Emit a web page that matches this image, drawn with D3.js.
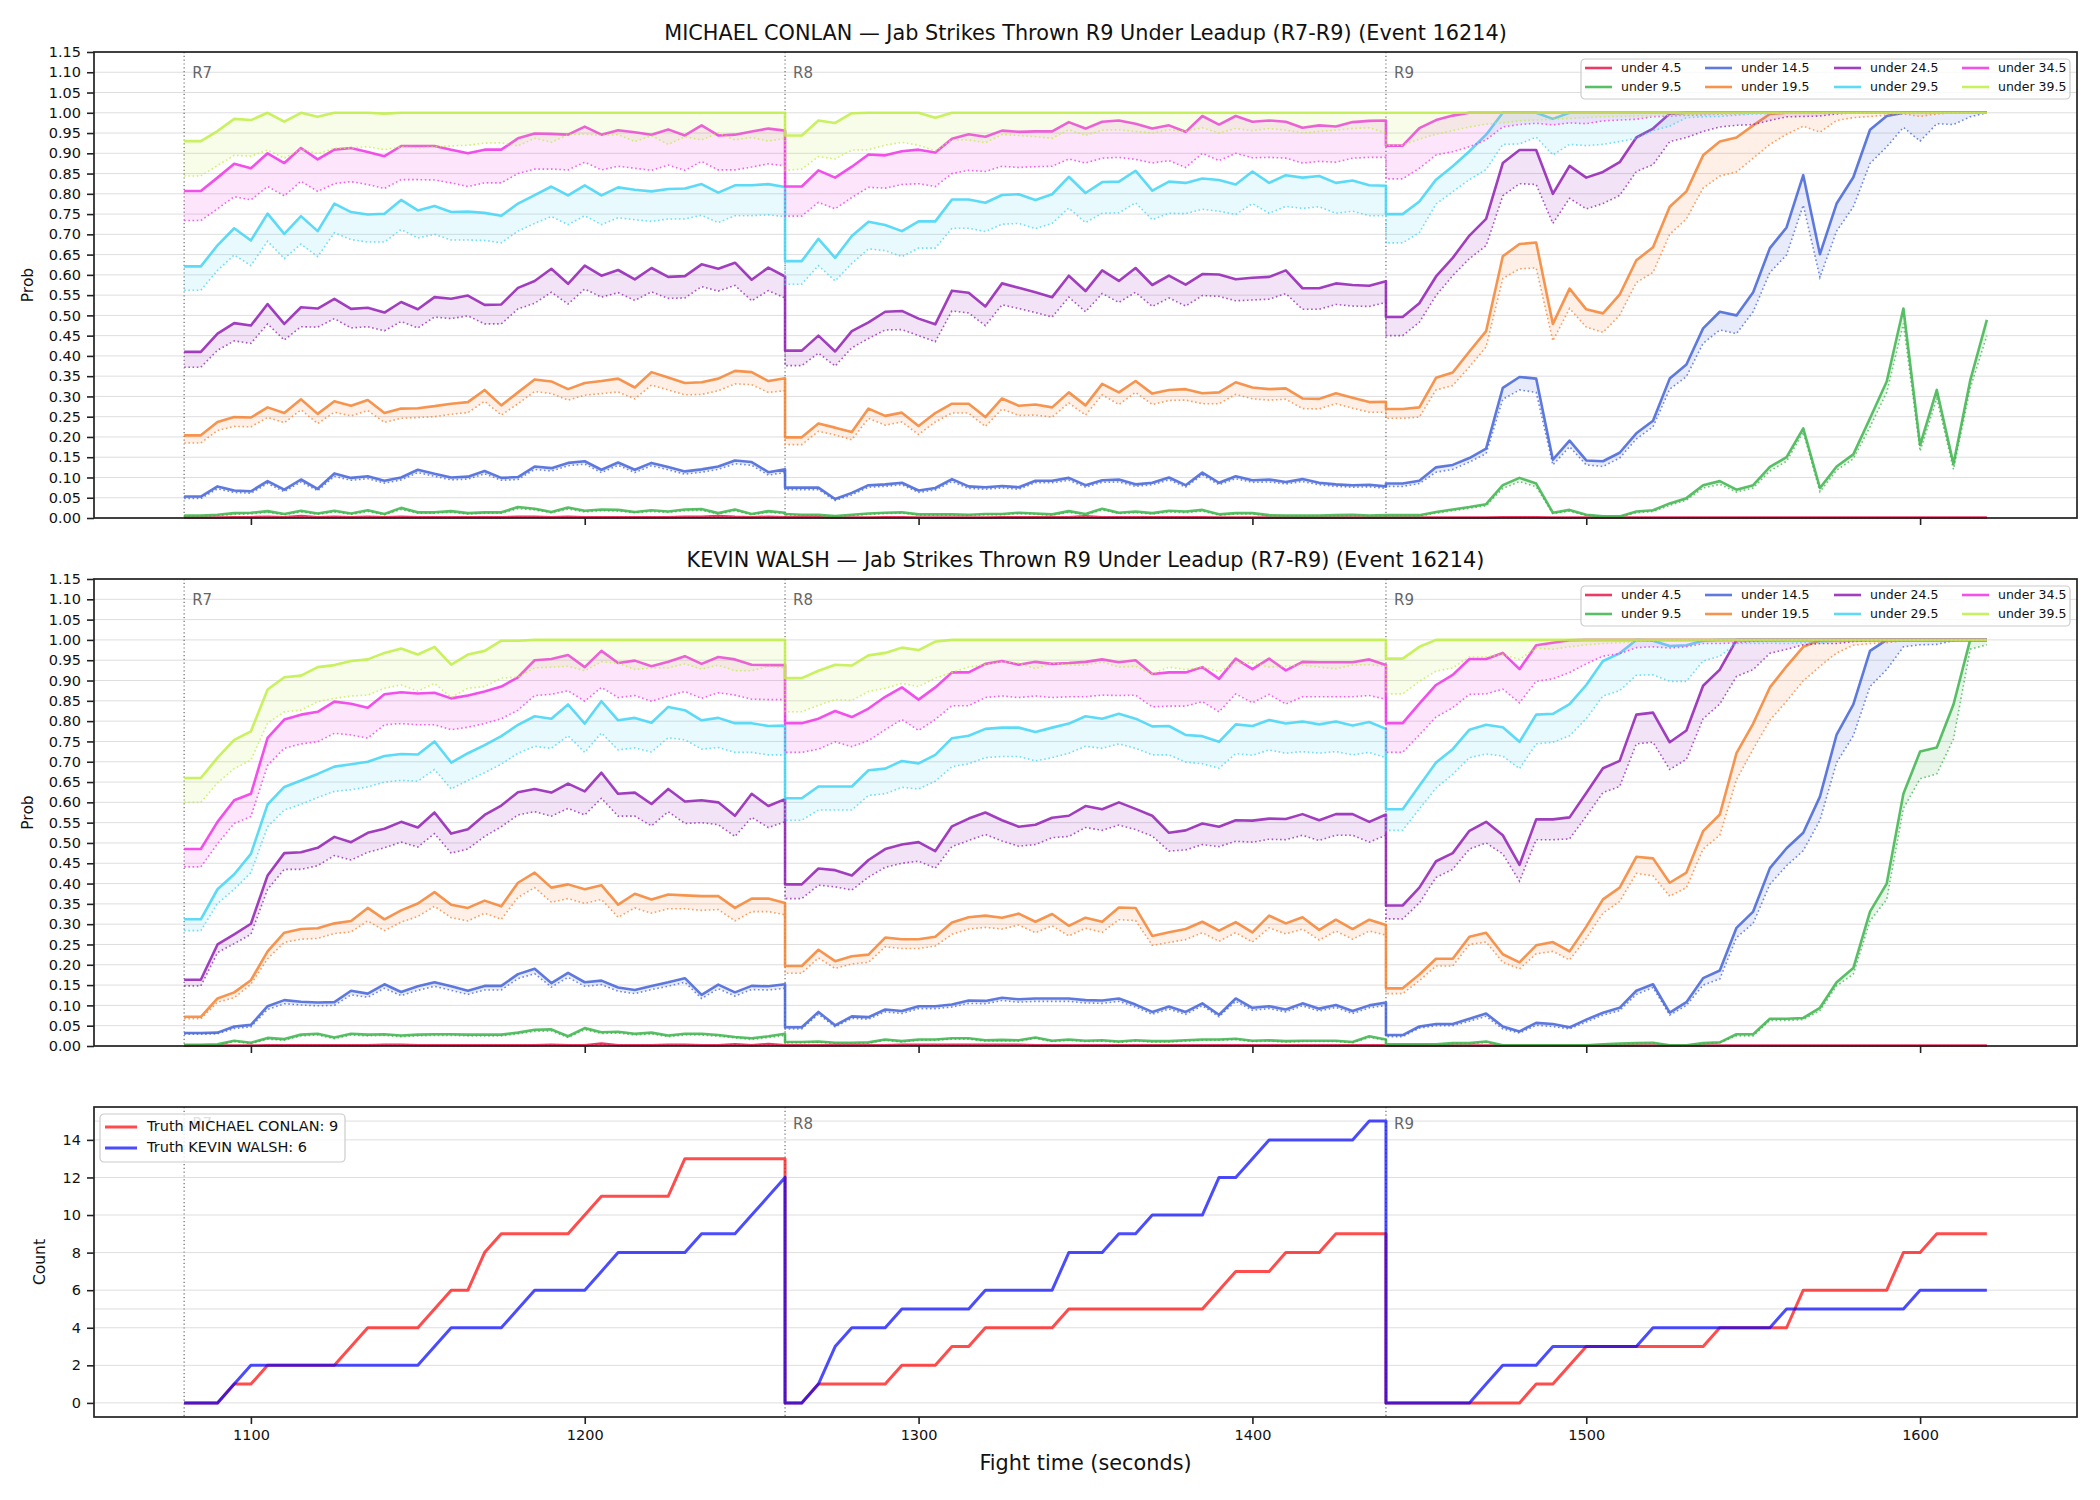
<!DOCTYPE html>
<html>
<head>
<meta charset="utf-8">
<script src="https://cdn.jsdelivr.net/npm/d3@7"></script>
<style>
body { margin: 0; background: #fff; }
text { font-family: "DejaVu Sans", sans-serif; }
</style>
</head>
<body>
<div id="chart"></div>
<script>

// ---- data ----------------------------------------------------------------
var roundStarts = [1080, 1260, 1440];
var roundNames = ["R7", "R8", "R9"];
var roundLength = 180;
var stepSec = 5;

var lineLabels = ["under 4.5", "under 9.5", "under 14.5", "under 19.5",
                  "under 24.5", "under 29.5", "under 34.5", "under 39.5"];
var lineColors = ["#e6194b", "#3cb44b", "#4363d8", "#f58231",
                  "#911eb4", "#42d4f4", "#f032e6", "#bfef45"];

var probTicks = d3.range(24).map(function(i) { return i * 0.05; });
var timeTicks = [1100, 1200, 1300, 1400, 1500, 1600];
var countTicks = [0, 2, 4, 6, 8, 10, 12, 14];
var countGrid = [0, 2, 4, 5, 6, 8, 10, 12, 14, 15];

// MICHAEL CONLAN, solid lines (one row per round R7, R8, R9)
var conlanU45 = [.001,.001,.001,.002,.002,.003,.002,.005,.002,.003,.002,.003,.002,.003,.002,.002,.002,.002,.002,.002,.003,.003,.002,.003,.002,.002,.002,.002,.002,.002,.003,.003,.005,.003,.002,.003,.002,
  .002,.002,.002,.001,.001,.001,.002,.002,.001,.001,.001,.001,.001,.002,.002,.002,.002,.002,.004,.002,.002,.002,.002,.002,.002,.002,.001,.001,.001,.001,.001,.001,.001,.001,.001,.001,.001,
  .001,.001,.001,.001,.001,.001,.001,.002,.002,.002,.001,.001,.001,.001,.001,.001,.001,.001,.001,.001,.001,.001,.001,.001,.001,.001,.001,.001,.001,.001,.001,.001,.001,.001,.001,.001,.001];
var conlanU95 = [.006,.006,.008,.012,.013,.017,.01,.018,.011,.018,.011,.019,.01,.025,.014,.014,.017,.012,.014,.014,.027,.023,.015,.026,.018,.021,.02,.015,.019,.016,.021,.022,.012,.021,.01,.017,.013,
  .01,.008,.008,.005,.008,.011,.013,.014,.009,.009,.009,.008,.01,.01,.013,.011,.009,.017,.01,.023,.013,.016,.012,.018,.016,.02,.009,.012,.012,.007,.006,.006,.006,.007,.008,.006,.007,
  .007,.007,.007,.015,.021,.027,.034,.081,.099,.085,.013,.02,.008,.004,.004,.016,.019,.036,.049,.081,.091,.07,.081,.126,.15,.221,.074,.127,.157,.246,.337,.517,.18,.316,.133,.339,.489];
var conlanU145 = [.053,.053,.078,.068,.066,.091,.07,.095,.072,.11,.099,.103,.092,.10,.119,.109,.10,.102,.116,.099,.101,.127,.123,.136,.14,.119,.137,.119,.136,.126,.115,.12,.127,.142,.138,.113,.12,
  .075,.075,.075,.047,.062,.081,.083,.087,.068,.074,.096,.078,.076,.079,.076,.092,.092,.099,.081,.093,.095,.083,.087,.10,.081,.112,.087,.103,.093,.095,.089,.096,.087,.083,.081,.082,.078,
  .085,.085,.092,.125,.131,.148,.171,.321,.348,.344,.144,.191,.142,.14,.161,.209,.24,.344,.379,.468,.509,.50,.557,.666,.717,.846,.651,.776,.841,.958,.992,1,1,1,1,1,1];
var conlanU195 = [.204,.204,.237,.249,.248,.273,.259,.293,.257,.288,.277,.291,.259,.27,.271,.276,.282,.286,.316,.278,.31,.342,.337,.318,.333,.338,.344,.322,.36,.347,.333,.335,.344,.363,.36,.338,.345,
  .199,.199,.233,.223,.212,.27,.252,.26,.227,.259,.282,.282,.249,.295,.277,.28,.273,.31,.278,.331,.31,.338,.307,.316,.318,.308,.31,.335,.322,.318,.32,.295,.294,.308,.297,.286,.287,
  .269,.269,.273,.346,.359,.411,.461,.646,.676,.68,.479,.566,.515,.505,.551,.636,.668,.768,.806,.895,.929,.939,.969,.997,1,1,1,1,1,1,1,1,1,1,1,1,1];
var conlanU245 = [.41,.41,.455,.481,.475,.528,.479,.52,.517,.541,.516,.519,.507,.533,.515,.545,.541,.549,.526,.527,.568,.585,.615,.578,.623,.598,.612,.589,.617,.595,.597,.626,.615,.63,.588,.618,.596,
  .413,.413,.45,.411,.461,.483,.509,.511,.492,.478,.561,.556,.522,.579,.568,.557,.545,.598,.56,.611,.585,.617,.575,.598,.576,.602,.601,.589,.593,.595,.611,.567,.567,.579,.575,.573,.584,
  .496,.496,.53,.596,.642,.697,.738,.876,.908,.908,.8,.869,.84,.854,.878,.939,.961,.998,1,1,1,1,1,1,1,1,1,1,1,1,1,1,1,1,1,1,1];
var conlanU295 = [.621,.621,.673,.715,.685,.751,.701,.745,.708,.776,.755,.749,.751,.785,.759,.77,.755,.756,.753,.746,.776,.797,.818,.796,.821,.796,.816,.81,.806,.812,.813,.824,.803,.821,.821,.824,.817,
  .634,.634,.689,.642,.696,.731,.723,.708,.732,.732,.786,.786,.778,.797,.799,.785,.799,.842,.802,.829,.83,.857,.808,.83,.827,.838,.834,.823,.855,.827,.846,.84,.844,.827,.833,.821,.82,
  .75,.75,.781,.835,.868,.905,.946,1,1,1,.985,1,1,1,1,1,1,1,1,1,1,1,1,1,1,1,1,1,1,1,1,1,1,1,1,1,1];
var conlanU345 = [.807,.807,.84,.874,.863,.90,.876,.913,.885,.909,.913,.903,.893,.918,.918,.918,.909,.90,.909,.909,.937,.949,.948,.946,.966,.946,.957,.952,.946,.959,.944,.969,.944,.946,.954,.961,.956,
  .818,.818,.858,.84,.867,.897,.895,.905,.909,.902,.936,.947,.941,.956,.953,.954,.954,.977,.961,.978,.981,.973,.961,.969,.953,.992,.971,.992,.978,.981,.978,.963,.969,.966,.977,.98,.981,
  .919,.919,.962,.982,.993,1,1,1,1,1,1,1,1,1,1,1,1,1,1,1,1,1,1,1,1,1,1,1,1,1,1,1,1,1,1,1,1];
var conlanU395 = [.93,.93,.955,.985,.982,1,.978,1,.99,1,1,1,.998,1,1,1,1,1,1,1,1,1,1,1,1,1,1,1,1,1,1,1,1,1,1,1,1,
  .944,.944,.981,.975,.999,1,1,1,1,.988,1,1,1,1,1,1,1,1,1,1,1,1,1,1,1,1,1,1,1,1,1,1,1,1,1,1,1,
  1,1,1,1,1,1,1,1,1,1,1,1,1,1,1,1,1,1,1,1,1,1,1,1,1,1,1,1,1,1,1,1,1,1,1,1,1];

// MICHAEL CONLAN, dotted lines
var conlanU45Lo = [0,0,0,.001,.001,.002,.001,.003,.001,.002,.001,.002,.001,.002,.001,.001,.001,.001,.001,.001,.002,.002,.001,.002,.001,.001,.001,.001,.001,.001,.002,.002,.003,.002,.001,.002,.001,
  .001,.001,.001,0,0,0,.001,.001,0,0,0,0,0,.001,.001,.001,.001,.001,.003,.001,.001,.001,.001,.001,.001,.001,0,0,0,0,0,0,0,0,0,0,0,
  0,0,0,0,0,0,0,.001,.001,.001,0,0,0,0,0,0,0,0,0,0,0,0,0,0,0,0,0,0,0,0,0,0,0,0,0,0,0];
var conlanU95Lo = [.004,.004,.006,.009,.01,.014,.008,.015,.009,.015,.009,.016,.008,.021,.012,.012,.014,.01,.012,.012,.023,.02,.013,.022,.015,.018,.017,.013,.016,.014,.018,.019,.01,.018,.008,.014,.011,
  .008,.006,.006,.004,.006,.009,.011,.012,.007,.007,.007,.006,.008,.008,.011,.009,.007,.014,.008,.02,.011,.013,.01,.015,.013,.017,.007,.01,.01,.005,.005,.005,.005,.005,.006,.005,.005,
  .005,.005,.005,.012,.018,.024,.03,.073,.09,.077,.011,.017,.006,.003,.003,.013,.016,.031,.044,.074,.083,.064,.074,.116,.14,.212,.065,.118,.146,.225,.31,.48,.165,.295,.12,.32,.45];
var conlanU145Lo = [.048,.048,.072,.063,.061,.085,.065,.089,.067,.103,.093,.097,.086,.094,.112,.103,.094,.096,.109,.093,.095,.12,.116,.129,.133,.112,.13,.112,.129,.119,.108,.113,.12,.134,.13,.106,.112,
  .07,.07,.07,.043,.057,.076,.078,.082,.063,.069,.09,.073,.071,.074,.071,.087,.087,.093,.076,.088,.089,.078,.082,.094,.076,.106,.082,.097,.088,.089,.084,.09,.082,.078,.076,.077,.073,
  .078,.078,.085,.113,.12,.138,.159,.293,.316,.31,.131,.176,.131,.127,.148,.195,.225,.318,.349,.431,.464,.455,.509,.606,.649,.772,.594,.708,.768,.875,.916,.964,.93,.973,.971,.99,1];
var conlanU195Lo = [.185,.185,.216,.226,.225,.248,.235,.267,.233,.261,.252,.265,.236,.246,.248,.25,.256,.26,.288,.254,.282,.312,.307,.291,.303,.307,.311,.294,.328,.316,.304,.305,.314,.331,.329,.31,.314,
  .181,.181,.214,.205,.193,.246,.229,.237,.206,.237,.259,.259,.226,.269,.253,.254,.249,.284,.254,.304,.28,.31,.28,.29,.291,.282,.282,.305,.294,.291,.293,.27,.269,.282,.271,.261,.261,
  .246,.246,.249,.316,.327,.373,.422,.591,.615,.617,.437,.517,.471,.458,.50,.581,.606,.70,.738,.814,.844,.854,.888,.922,.947,.967,.952,.981,.988,.991,.994,.997,.991,.997,1,1,1];
var conlanU245Lo = [.372,.372,.414,.437,.431,.479,.439,.472,.471,.492,.469,.472,.462,.485,.469,.496,.492,.499,.479,.479,.516,.53,.557,.528,.565,.545,.556,.537,.558,.542,.543,.571,.56,.574,.536,.561,.543,
  .376,.376,.407,.375,.42,.443,.464,.465,.45,.435,.511,.506,.475,.526,.517,.507,.496,.545,.509,.554,.532,.557,.522,.543,.523,.549,.547,.536,.538,.54,.554,.515,.515,.527,.523,.522,.532,
  .45,.45,.483,.549,.598,.64,.672,.795,.825,.823,.727,.789,.763,.776,.796,.855,.872,.929,.939,.954,.965,.969,.971,.981,.99,.991,.992,.997,1,1,1,1,1,1,1,1,1];
var conlanU295Lo = [.562,.562,.611,.649,.623,.683,.64,.676,.645,.704,.687,.681,.681,.712,.691,.70,.686,.686,.685,.679,.708,.727,.744,.724,.746,.724,.741,.736,.732,.738,.738,.747,.729,.746,.746,.748,.744,
  .577,.577,.623,.585,.628,.664,.66,.645,.666,.666,.715,.715,.707,.725,.727,.714,.727,.765,.729,.752,.753,.778,.736,.752,.751,.762,.757,.749,.776,.752,.769,.764,.768,.752,.757,.746,.746,
  .679,.679,.704,.775,.805,.835,.86,.922,.923,.94,.896,.922,.919,.922,.929,.937,.956,.967,.988,.99,.991,.994,.997,.998,1,1,1,1,1,1,1,1,1,1,1,1,1];
var conlanU345Lo = [.734,.734,.763,.793,.785,.818,.795,.831,.806,.825,.83,.823,.813,.835,.835,.834,.827,.818,.827,.827,.85,.861,.861,.859,.878,.859,.868,.863,.858,.871,.858,.88,.859,.859,.866,.874,.869,
  .745,.745,.779,.763,.791,.816,.814,.823,.825,.818,.85,.858,.855,.868,.865,.867,.868,.886,.876,.888,.89,.885,.876,.882,.865,.90,.882,.90,.889,.89,.888,.876,.88,.878,.888,.89,.89,
  .837,.837,.863,.896,.904,.916,.933,.965,.971,.974,.97,.975,.973,.98,.982,.984,.99,.992,.994,.995,.997,.998,.999,.999,1,1,1,1,1,1,1,1,1,1,1,1,1];
var conlanU395Lo = [.844,.844,.87,.895,.893,.908,.888,.91,.899,.912,.913,.916,.909,.916,.913,.916,.918,.92,.925,.926,.918,.937,.927,.946,.947,.944,.946,.929,.943,.922,.941,.933,.95,.933,.939,.93,.937,
  .858,.861,.892,.886,.908,.909,.92,.927,.92,.906,.933,.933,.926,.946,.944,.941,.937,.958,.944,.957,.958,.954,.95,.958,.954,.963,.95,.961,.956,.961,.957,.95,.954,.957,.961,.963,.95,
  .92,.92,.935,.947,.956,.965,.972,.975,.98,.982,.984,.986,.988,.99,.991,.992,.993,.994,.995,.996,.997,.998,.998,.999,.999,1,1,1,1,1,1,1,1,1,1,1,1];

// KEVIN WALSH, solid lines
var walshU45 = [.001,.001,.001,.001,.001,.002,.002,.002,.002,.002,.002,.002,.003,.003,.002,.002,.002,.002,.002,.002,.002,.002,.003,.002,.002,.006,.002,.002,.002,.003,.003,.002,.002,.004,.002,.005,.002,
  .002,.002,.002,.002,.002,.002,.002,.003,.003,.003,.003,.003,.003,.003,.003,.002,.002,.002,.002,.002,.002,.002,.002,.002,.002,.002,.002,.002,.002,.002,.002,.002,.002,.002,.002,.002,.002,
  .001,.001,.001,.001,.001,.001,.001,.001,.001,.001,.001,.001,.001,.001,.001,.001,.001,.001,.001,.001,.001,.001,.001,.001,.001,.001,.001,.001,.001,.001,.001,.001,.001,.001,.001,.001,.001];
var walshU95 = [.003,.003,.004,.013,.008,.02,.017,.028,.03,.021,.03,.028,.029,.026,.028,.029,.029,.028,.028,.028,.033,.04,.041,.024,.044,.034,.035,.03,.033,.026,.03,.03,.027,.022,.019,.024,.03,
  .01,.01,.011,.008,.008,.009,.016,.012,.016,.016,.019,.019,.014,.015,.014,.021,.013,.016,.013,.014,.011,.014,.012,.012,.014,.016,.016,.018,.013,.014,.012,.013,.013,.013,.01,.024,.016,
  .004,.004,.004,.004,.007,.007,.011,.002,.002,.002,.002,.002,.002,.004,.006,.007,.008,.002,.002,.007,.009,.029,.029,.067,.067,.069,.094,.157,.192,.331,.40,.621,.725,.735,.841,1,1];
var walshU145 = [.032,.032,.033,.048,.052,.098,.113,.109,.107,.108,.136,.129,.152,.133,.147,.157,.147,.136,.148,.148,.177,.19,.155,.18,.157,.161,.144,.138,.148,.157,.167,.126,.151,.132,.148,.147,.152,
  .046,.046,.084,.051,.073,.071,.09,.086,.098,.098,.102,.112,.111,.119,.115,.117,.117,.117,.113,.112,.117,.102,.084,.097,.084,.105,.077,.117,.094,.098,.09,.105,.092,.101,.086,.10,.107,
  .027,.027,.048,.054,.054,.067,.08,.048,.036,.057,.054,.046,.065,.082,.094,.136,.152,.082,.108,.167,.186,.291,.331,.438,.487,.525,.614,.767,.841,.973,1,1,1,1,1,1,1];
var walshU195 = [.072,.072,.117,.132,.162,.233,.279,.288,.29,.302,.308,.34,.312,.334,.351,.379,.348,.34,.358,.344,.402,.427,.39,.398,.386,.396,.348,.375,.361,.373,.371,.369,.369,.34,.363,.363,.352,
  .197,.197,.237,.209,.221,.225,.267,.263,.263,.269,.304,.317,.321,.316,.326,.306,.325,.296,.316,.306,.341,.34,.271,.28,.288,.306,.284,.305,.28,.321,.302,.317,.286,.311,.288,.311,.298,
  .142,.142,.176,.215,.215,.269,.279,.226,.206,.248,.256,.233,.294,.361,.39,.466,.462,.402,.427,.529,.57,.721,.794,.883,.935,.983,.999,1,1,1,1,1,1,1,1,1,1];
var walshU245 = [.163,.163,.25,.275,.301,.42,.475,.477,.488,.515,.502,.525,.535,.552,.538,.575,.523,.534,.569,.592,.625,.633,.624,.646,.627,.673,.621,.624,.596,.633,.602,.605,.60,.567,.621,.591,.608,
  .398,.398,.437,.433,.42,.458,.485,.496,.502,.48,.541,.56,.575,.556,.54,.545,.562,.567,.591,.583,.60,.584,.567,.525,.531,.548,.54,.556,.555,.56,.559,.571,.556,.571,.571,.552,.57,
  .346,.346,.39,.455,.475,.53,.552,.519,.446,.558,.558,.563,.623,.684,.702,.816,.821,.748,.777,.887,.927,1,1,1,1,1,1,1,1,1,1,1,1,1,1,1,1];
var walshU295 = [.312,.312,.386,.423,.473,.595,.638,.654,.67,.688,.694,.70,.714,.719,.718,.75,.698,.721,.741,.763,.791,.812,.806,.841,.794,.849,.802,.808,.796,.835,.827,.802,.808,.795,.795,.788,.789,
  .61,.61,.639,.639,.639,.679,.683,.702,.696,.717,.758,.764,.781,.784,.784,.773,.784,.794,.812,.806,.818,.806,.787,.788,.766,.763,.749,.792,.788,.803,.794,.799,.792,.799,.789,.798,.781,
  .583,.583,.641,.698,.731,.779,.791,.785,.749,.816,.818,.842,.889,.948,.967,1,.998,.985,.987,.998,1,1,1,1,1,1,1,1,1,1,1,1,1,1,1,1,1];
var walshU345 = [.485,.485,.552,.605,.621,.759,.804,.816,.823,.848,.843,.833,.866,.871,.868,.87,.856,.863,.873,.885,.908,.95,.953,.963,.933,.973,.943,.949,.935,.946,.96,.941,.958,.952,.939,.938,.938,
  .795,.795,.806,.825,.81,.831,.86,.883,.853,.883,.92,.92,.941,.948,.939,.946,.941,.943,.946,.952,.945,.95,.916,.92,.92,.933,.904,.954,.928,.954,.925,.946,.945,.945,.945,.952,.938,
  .795,.795,.843,.889,.914,.953,.953,.968,.928,.987,.993,.999,1,1,1,1,1,1,1,1,1,1,1,1,1,1,1,1,1,1,1,1,1,1,1,1,1];
var walshU395 = [.66,.66,.71,.754,.775,.878,.908,.912,.933,.938,.948,.952,.968,.979,.964,.983,.939,.964,.973,.998,.998,1,1,1,1,1,1,1,1,1,1,1,1,1,1,1,1,
  .906,.906,.924,.939,.937,.962,.968,.981,.975,.996,1,1,1,1,1,1,1,1,1,1,1,1,1,1,1,1,1,1,1,1,1,1,1,1,1,1,1,
  .954,.954,.983,1,1,1,1,1,1,1,1,1,1,1,1,1,1,1,1,1,1,1,1,1,1,1,1,1,1,1,1,1,1,1,1,1,1];

// KEVIN WALSH, dotted lines
var walshU45Lo = [0,0,0,0,0,.001,.001,.001,.001,.001,.001,.001,.002,.002,.001,.001,.001,.001,.001,.001,.001,.001,.002,.001,.001,.004,.001,.001,.001,.002,.002,.001,.001,.003,.001,.003,.001,
  .001,.001,.001,.001,.001,.001,.001,.002,.002,.002,.002,.002,.002,.002,.002,.001,.001,.001,.001,.001,.001,.001,.001,.001,.001,.001,.001,.001,.001,.001,.001,.001,.001,.001,.001,.001,.001,
  0,0,0,0,0,0,0,0,0,0,0,0,0,0,0,0,0,0,0,0,0,0,0,0,0,0,0,0,0,0,0,0,0,0,0,0,0];
var walshU95Lo = [.002,.002,.003,.011,.006,.017,.014,.025,.027,.018,.027,.025,.026,.023,.025,.026,.026,.025,.025,.025,.03,.036,.037,.021,.04,.031,.032,.027,.03,.023,.027,.027,.024,.02,.016,.021,.026,
  .008,.008,.009,.006,.006,.007,.014,.01,.014,.014,.017,.017,.012,.013,.012,.019,.011,.014,.011,.012,.009,.012,.01,.01,.012,.014,.014,.016,.011,.012,.01,.011,.011,.011,.008,.021,.014,
  .003,.003,.003,.003,.006,.006,.009,.001,.001,.001,.001,.001,.001,.003,.005,.006,.007,.001,.001,.006,.008,.025,.025,.063,.063,.065,.087,.148,.177,.308,.361,.585,.658,.67,.756,.977,.988];
var walshU145Lo = [.029,.029,.03,.043,.047,.09,.104,.101,.099,.10,.126,.12,.142,.124,.137,.147,.137,.127,.138,.138,.166,.178,.145,.169,.147,.151,.135,.129,.139,.147,.157,.117,.141,.123,.139,.138,.142,
  .042,.042,.078,.047,.068,.066,.084,.08,.092,.092,.096,.105,.104,.112,.108,.11,.11,.11,.106,.105,.11,.096,.078,.091,.078,.099,.072,.11,.088,.092,.084,.099,.086,.095,.08,.094,.10,
  .023,.023,.044,.05,.05,.061,.073,.042,.032,.051,.048,.042,.059,.076,.087,.127,.144,.076,.10,.15,.165,.267,.302,.398,.444,.481,.556,.698,.764,.885,.927,.983,.988,.989,.998,1,1];
var walshU195Lo = [.067,.067,.108,.119,.152,.215,.255,.263,.265,.277,.281,.308,.284,.305,.319,.344,.316,.308,.327,.312,.366,.39,.354,.363,.351,.361,.317,.34,.327,.338,.338,.334,.336,.308,.331,.331,.323,
  .179,.179,.217,.191,.202,.206,.244,.24,.24,.246,.275,.288,.292,.288,.298,.279,.296,.271,.29,.28,.311,.309,.248,.255,.262,.279,.258,.279,.256,.291,.276,.288,.261,.283,.263,.283,.273,
  .129,.129,.161,.197,.197,.25,.256,.206,.19,.227,.233,.212,.265,.327,.356,.425,.419,.369,.39,.485,.519,.656,.731,.802,.849,.899,.935,.968,.987,.991,.993,.998,1,1,1,1,1];
var walshU245Lo = [.148,.148,.23,.252,.275,.386,.435,.435,.444,.469,.458,.477,.488,.502,.49,.523,.475,.485,.516,.54,.569,.577,.566,.585,.569,.61,.566,.566,.542,.577,.548,.55,.545,.516,.563,.538,.552,
  .363,.363,.396,.392,.384,.416,.44,.45,.455,.438,.491,.506,.521,.505,.492,.496,.513,.516,.538,.531,.544,.533,.517,.48,.483,.496,.491,.504,.502,.509,.508,.519,.506,.519,.519,.502,.519,
  .313,.313,.352,.415,.435,.485,.50,.473,.406,.508,.508,.51,.566,.624,.639,.744,.748,.681,.706,.806,.842,.91,.927,.967,.977,.988,.991,.991,.996,.998,1,1,1,1,1,1,1];
var walshU295Lo = [.284,.284,.351,.386,.427,.54,.581,.595,.612,.627,.631,.638,.65,.654,.652,.681,.633,.654,.673,.694,.721,.738,.733,.764,.723,.771,.729,.734,.724,.759,.754,.731,.735,.723,.723,.717,.717,
  .556,.556,.581,.581,.581,.617,.621,.637,.633,.652,.688,.695,.71,.713,.713,.702,.71,.721,.738,.733,.744,.733,.717,.717,.699,.695,.684,.72,.716,.729,.721,.725,.721,.725,.717,.723,.71,
  .531,.531,.584,.635,.669,.71,.719,.714,.683,.744,.748,.764,.806,.862,.875,.913,.914,.898,.898,.948,.96,.991,.991,.992,.991,.993,.993,.998,1,1,1,1,1,1,1,1,1];
var walshU345Lo = [.441,.441,.498,.548,.565,.691,.733,.744,.749,.77,.766,.758,.791,.794,.791,.791,.779,.785,.794,.806,.827,.863,.866,.875,.849,.883,.858,.863,.849,.862,.873,.856,.87,.864,.854,.853,.853,
  .723,.723,.731,.749,.737,.752,.779,.804,.777,.804,.838,.838,.858,.862,.858,.862,.858,.86,.86,.864,.863,.864,.835,.837,.837,.848,.823,.867,.845,.866,.842,.86,.86,.86,.86,.863,.854,
  .723,.723,.766,.81,.833,.866,.867,.879,.845,.898,.904,.92,.941,.96,.966,.981,.983,.98,.983,.991,.991,.993,.996,.998,.999,1,1,1,1,1,1,1,1,1,1,1,1];
var walshU395Lo = [.60,.60,.648,.683,.704,.795,.823,.827,.848,.856,.862,.864,.881,.889,.874,.893,.858,.881,.885,.906,.908,.931,.933,.935,.924,.946,.943,.927,.931,.931,.941,.928,.938,.924,.924,.935,.931,
  .823,.823,.839,.853,.851,.873,.881,.893,.885,.906,.92,.933,.939,.946,.943,.929,.943,.938,.938,.946,.933,.935,.916,.933,.927,.933,.922,.942,.943,.933,.935,.938,.933,.929,.938,.939,.935,
  .867,.867,.898,.923,.931,.958,.958,.964,.952,.98,.977,.983,.988,.991,.993,.996,.998,1,1,1,1,1,1,1,1,1,1,1,1,1,1,1,1,1,1,1,1];

// running jab counts
var truthConlan = [0,0,0,1,1,2,2,2,2,2,3,4,4,4,4,5,6,6,8,9,9,9,9,9,10,11,11,11,11,11,13,13,13,13,13,13,13,
  0,0,1,1,1,1,1,2,2,2,3,3,4,4,4,4,4,5,5,5,5,5,5,5,5,5,6,7,7,7,8,8,8,9,9,9,9,
  0,0,0,0,0,0,0,0,0,1,1,2,3,3,3,3,3,3,3,3,4,4,4,4,4,6,6,6,6,6,6,8,8,9,9,9,9];
var truthWalsh = [0,0,0,1,2,2,2,2,2,2,2,2,2,2,2,3,4,4,4,4,5,6,6,6,6,7,8,8,8,8,8,9,9,9,10,11,12,
  0,0,1,3,4,4,4,5,5,5,5,5,6,6,6,6,6,8,8,8,9,9,10,10,10,10,12,12,13,14,14,14,14,14,14,15,15,
  0,0,0,0,0,0,1,2,2,2,3,3,3,3,3,3,4,4,4,4,4,4,4,4,5,5,5,5,5,5,5,5,6,6,6,6,6];

var conlanMain = [conlanU45, conlanU95, conlanU145, conlanU195, conlanU245, conlanU295, conlanU345, conlanU395];
var conlanLow = [conlanU45Lo, conlanU95Lo, conlanU145Lo, conlanU195Lo, conlanU245Lo, conlanU295Lo, conlanU345Lo, conlanU395Lo];
var walshMain = [walshU45, walshU95, walshU145, walshU195, walshU245, walshU295, walshU345, walshU395];
var walshLow = [walshU45Lo, walshU95Lo, walshU145Lo, walshU195Lo, walshU245Lo, walshU295Lo, walshU345Lo, walshU395Lo];

// ---- chart ---------------------------------------------------------------
var width = 2100, height = 1500;
var left = 94, right = 2077;
var font = "'DejaVu Sans', sans-serif";

// sample times: every 5 s through each round, rounds share their boundary second
var times = [];
roundStarts.forEach(function(s) {
	for (var t = s; t <= s + roundLength; t += stepSec) times.push(t);
});

var svg = d3.select("#chart").append("svg")
	.attr("width", width)
	.attr("height", height)
	.style("background", "#fff");

var x = d3.scaleLinear().domain([1053, 1647]).range([left, right]);

function styleAxis(g, size) {
	g.attr("font-family", font).attr("font-size", size);
	g.select(".domain").remove();
	g.selectAll(".tick line").attr("stroke", "#222").attr("stroke-width", 1.6);
	g.selectAll(".tick text").attr("fill", "#111");
}

function roundMarkers(g, top, bottom, labelOffset) {
	roundStarts.forEach(function(s, i) {
		g.append("line")
			.attr("x1", x(s)).attr("x2", x(s))
			.attr("y1", top).attr("y2", bottom)
			.attr("stroke", "#555")
			.attr("stroke-width", 1.2)
			.attr("stroke-dasharray", "1.2,2.6")
			.attr("opacity", 0.85);
		g.append("text")
			.attr("x", x(s) + 8)
			.attr("y", top + labelOffset)
			.attr("dominant-baseline", "middle")
			.attr("font-size", 15)
			.attr("fill", "#666")
			.text(roundNames[i]);
	});
}

function drawProbPanel(top, bottom, title, mains, lows) {
	var y = d3.scaleLinear().domain([0, 1.15]).range([bottom, top]);
	var g = svg.append("g");

	probTicks.forEach(function(v) {
		g.append("line")
			.attr("x1", left).attr("x2", right)
			.attr("y1", y(v)).attr("y2", y(v))
			.attr("stroke", "#dedede").attr("stroke-width", 1);
	});

	roundMarkers(g, top, bottom, 21);

	var area = d3.area()
		.x(function(d, i) { return x(times[i]); })
		.y0(function(d) { return y(d[1]); })
		.y1(function(d) { return y(d[0]); });
	var line = d3.line()
		.x(function(d, i) { return x(times[i]); })
		.y(function(d) { return y(d); });

	for (var k = 0; k < mains.length; k++) {
		var pairs = mains[k].map(function(v, i) { return [v, lows[k][i]]; });
		g.append("path").datum(pairs)
			.attr("d", area)
			.attr("fill", lineColors[k])
			.attr("fill-opacity", 0.12)
			.attr("stroke", "none");
		g.append("path").datum(mains[k])
			.attr("d", line)
			.attr("fill", "none")
			.attr("stroke", lineColors[k])
			.attr("stroke-width", 2.6)
			.attr("stroke-linejoin", "round")
			.attr("opacity", 0.85);
		g.append("path").datum(lows[k])
			.attr("d", line)
			.attr("fill", "none")
			.attr("stroke", lineColors[k])
			.attr("stroke-width", 1.6)
			.attr("stroke-dasharray", "1.6,2.6")
			.attr("opacity", 0.75);
	}

	var yAxis = g.append("g")
		.attr("transform", "translate(" + left + ",0)")
		.call(d3.axisLeft(y).tickValues(probTicks).tickFormat(d3.format(".2f"))
			.tickSize(7).tickPadding(6).tickSizeOuter(0));
	styleAxis(yAxis, 14.5);

	var xAxis = g.append("g")
		.attr("transform", "translate(0," + bottom + ")")
		.call(d3.axisBottom(x).tickValues(timeTicks).tickFormat("").tickSize(7).tickSizeOuter(0));
	styleAxis(xAxis, 14.5);

	g.append("rect")
		.attr("x", left).attr("y", top)
		.attr("width", right - left).attr("height", bottom - top)
		.attr("fill", "none").attr("stroke", "#222").attr("stroke-width", 1.7);

	g.append("text")
		.attr("x", (left + right) / 2)
		.attr("y", top - 18)
		.attr("text-anchor", "middle")
		.attr("dominant-baseline", "middle")
		.attr("font-size", 20.8)
		.attr("fill", "#111")
		.text(title);

	g.append("text")
		.attr("transform", "translate(28," + ((top + bottom) / 2) + ") rotate(-90)")
		.attr("text-anchor", "middle")
		.attr("dominant-baseline", "middle")
		.attr("font-size", 15.5)
		.attr("fill", "#111")
		.text("Prob");

	// legend, 4 columns x 2 rows, filled column by column
	var lg = g.append("g").attr("transform", "translate(1581," + (top + 7) + ")");
	lg.append("rect")
		.attr("width", 489).attr("height", 40).attr("rx", 4)
		.attr("fill", "#fff").attr("fill-opacity", 0.8)
		.attr("stroke", "#cccccc").attr("stroke-width", 1.2);
	var colX = [4, 124, 253, 381];
	var rowY = [9, 28];
	lineLabels.forEach(function(lab, k) {
		var cx = colX[Math.floor(k / 2)], cy = rowY[k % 2];
		lg.append("line")
			.attr("x1", cx).attr("x2", cx + 27)
			.attr("y1", cy).attr("y2", cy)
			.attr("stroke", lineColors[k]).attr("stroke-width", 2.6).attr("opacity", 0.85);
		lg.append("text")
			.attr("x", cx + 36).attr("y", cy)
			.attr("dominant-baseline", "middle")
			.attr("font-size", 12.5)
			.attr("fill", "#111")
			.text(lab);
	});
}

drawProbPanel(52, 518, "MICHAEL CONLAN \u2014 Jab Strikes Thrown R9 Under Leadup (R7-R9) (Event 16214)", conlanMain, conlanLow);
drawProbPanel(579, 1046, "KEVIN WALSH \u2014 Jab Strikes Thrown R9 Under Leadup (R7-R9) (Event 16214)", walshMain, walshLow);

// ---- count panel ----
(function() {
	var top = 1107, bottom = 1417;
	var y = d3.scaleLinear().domain([-0.75, 15.75]).range([bottom, top]);
	var g = svg.append("g");

	countGrid.forEach(function(v) {
		g.append("line")
			.attr("x1", left).attr("x2", right)
			.attr("y1", y(v)).attr("y2", y(v))
			.attr("stroke", "#dedede").attr("stroke-width", 1);
	});

	roundMarkers(g, top, bottom, 17);

	var line = d3.line()
		.x(function(d, i) { return x(times[i]); })
		.y(function(d) { return y(d); });

	var countSeries = [
		{ values: truthConlan, color: "red", label: "Truth MICHAEL CONLAN: 9" },
		{ values: truthWalsh, color: "blue", label: "Truth KEVIN WALSH: 6" }
	];
	countSeries.forEach(function(s) {
		g.append("path").datum(s.values)
			.attr("d", line)
			.attr("fill", "none")
			.attr("stroke", s.color)
			.attr("stroke-width", 3)
			.attr("stroke-linejoin", "round")
			.attr("opacity", 0.7);
	});

	var yAxis = g.append("g")
		.attr("transform", "translate(" + left + ",0)")
		.call(d3.axisLeft(y).tickValues(countTicks).tickSize(7).tickPadding(6).tickSizeOuter(0));
	styleAxis(yAxis, 14.5);

	var xAxis = g.append("g")
		.attr("transform", "translate(0," + bottom + ")")
		.call(d3.axisBottom(x).tickValues(timeTicks).tickFormat(d3.format("d"))
			.tickSize(7).tickPadding(6).tickSizeOuter(0));
	styleAxis(xAxis, 14.5);

	g.append("rect")
		.attr("x", left).attr("y", top)
		.attr("width", right - left).attr("height", bottom - top)
		.attr("fill", "none").attr("stroke", "#222").attr("stroke-width", 1.7);

	g.append("text")
		.attr("transform", "translate(40," + ((top + bottom) / 2) + ") rotate(-90)")
		.attr("text-anchor", "middle")
		.attr("dominant-baseline", "middle")
		.attr("font-size", 15.5)
		.attr("fill", "#111")
		.text("Count");

	g.append("text")
		.attr("x", (left + right) / 2)
		.attr("y", 1464)
		.attr("text-anchor", "middle")
		.attr("dominant-baseline", "middle")
		.attr("font-size", 20.8)
		.attr("fill", "#111")
		.text("Fight time (seconds)");

	// legend sits on top of the R7 marker label, as in the source figure
	var lg = g.append("g").attr("transform", "translate(100,1114)");
	lg.append("rect")
		.attr("width", 245).attr("height", 48).attr("rx", 4)
		.attr("fill", "#fff").attr("fill-opacity", 0.8)
		.attr("stroke", "#cccccc").attr("stroke-width", 1.2);
	countSeries.forEach(function(s, i) {
		var cy = 13 + i * 21;
		lg.append("line")
			.attr("x1", 5).attr("x2", 37)
			.attr("y1", cy).attr("y2", cy)
			.attr("stroke", s.color).attr("stroke-width", 3).attr("opacity", 0.7);
		lg.append("text")
			.attr("x", 47).attr("y", cy)
			.attr("dominant-baseline", "middle")
			.attr("font-size", 14.5)
			.attr("fill", "#111")
			.text(s.label);
	});
})();

</script>
</body>
</html>
